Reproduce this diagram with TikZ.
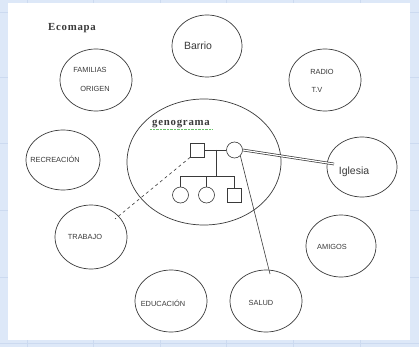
\documentclass[tikz,border=0pt]{standalone}
\usepackage{fontspec}
\setmainfont{Liberation Serif}
\setsansfont{Liberation Sans}
\definecolor{bgblue}{HTML}{DDE8F8}
\definecolor{gridblue}{HTML}{CCDAF0}
\definecolor{inkgray}{HTML}{3A3A3A}
\tikzset{
  eco/.style={draw=inkgray, line width=0.7pt, ellipse, inner sep=0pt},
  lbl/.style={font=\sffamily\fontsize{7.4}{8}\selectfont, text=inkgray, inner sep=0pt},
  biglbl/.style={font=\sffamily\fontsize{10.5}{12}\selectfont, text=inkgray, inner sep=0pt},
  ttl/.style={font=\bfseries\fontsize{10.8}{12}\selectfont\addfontfeature{LetterSpace=7}, text=inkgray, inner sep=0pt},
  male/.style={draw=inkgray, line width=0.6pt, minimum size=14pt, inner sep=0pt},
  female/.style={draw=inkgray, line width=0.6pt, circle, minimum size=16pt, inner sep=0pt},
  gline/.style={draw=inkgray, line width=0.6pt},
}
\usetikzlibrary{shapes.geometric}
\begin{document}
\begin{tikzpicture}[x=1pt,y=-1pt]
\useasboundingbox (0,0) rectangle (419,347);
\fill[bgblue] (0,0) rectangle (419,347);
\foreach \yy in {12,77,143,210,277,343} \draw[gridblue, line width=0.6pt] (0,\yy) -- (419,\yy);
\foreach \xx in {27,93,160,226,293,360} \draw[gridblue, line width=0.6pt] (\xx,0) -- (\xx,347);
\fill[white] (8,3) rectangle (410,340);

% ellipses
\node[eco, minimum width=70pt, minimum height=62pt] (barrio) at (207,46) {};
\node[eco, minimum width=72pt, minimum height=62pt] (fam) at (96,80) {};
\node[eco, minimum width=72pt, minimum height=62pt] (radio) at (325,80) {};
\node[eco, minimum width=74pt, minimum height=60pt] (recr) at (63,160) {};
\node[eco, minimum width=154pt, minimum height=126pt] (geno) at (204,162) {};
\node[eco, minimum width=70pt, minimum height=60pt] (igl) at (362,167) {};
\node[eco, minimum width=72pt, minimum height=64pt] (trab) at (91,237) {};
\node[eco, minimum width=70pt, minimum height=62pt] (amig) at (341,246) {};
\node[eco, minimum width=72pt, minimum height=62pt] (educ) at (171,301) {};
\node[eco, minimum width=72pt, minimum height=62pt] (salud) at (266,301) {};

% labels
\node[ttl] (tit) at (72,28) {Ecomapa};
\node[biglbl] (tbarrio) at (198,46) {Barrio};
\node[lbl] (tfam1) at (90,70) {FAMILIAS};
\node[lbl] (tfam2) at (95,89) {ORIGEN};
\node[lbl] (trad1) at (322,72) {RADIO};
\node[lbl] (trad2) at (317,90) {T.V};
\node[lbl] (trecr) at (55,159) {RECREACIÓN};
\node[biglbl] (tigl) at (354,172) {Iglesia};
\node[lbl] (ttrab) at (85,237) {TRABAJO};
\node[lbl] (tamig) at (332,247) {AMIGOS};
\node[lbl] (teduc) at (163,303) {EDUCACIÓN};
\node[lbl] (tsalud) at (261,303) {SALUD};
\node[ttl] (tgeno) at (181,124) {genograma};
\draw[green!60!black, opacity=0.6, line width=0.4pt, densely dotted] (150,129.5) -- (212,129.5);

% genogram
\node[male] (father) at (197.5,150) {};
\node[female] (mother) at (234.5,150) {};
\coordinate (mid) at (216,150);
\coordinate (sib) at (216,176);
\coordinate (s1) at (180.5,176);
\coordinate (s2) at (206.5,176);
\coordinate (s3) at (234.5,176);
\node[female] (c1) at (180.5,195) {};
\node[female] (c2) at (206.5,195) {};
\node[male] (c3) at (234.5,195) {};
\draw[gline] (father) -- (mother);
\draw[gline] (mid) -- (sib);
\draw[gline] (s1) -- (s3);
\draw[gline] (s1) -- (c1);
\draw[gline] (s2) -- (c2);
\draw[gline] (s3) -- (c3);

% connectors
\coordinate (iglend) at (334,164);
\coordinate (salend) at (270,274);
\coordinate (trabend) at (115,219);
\draw[inkgray, line width=2.6pt] (mother.east) -- (iglend);
\draw[white, line width=1.2pt] (mother.east) -- (iglend);
\draw[gline] (mother.south east) -- (salend);
\draw[inkgray, line width=0.6pt, dashed] (father.south west) -- (trabend);
\end{tikzpicture}
\end{document}
